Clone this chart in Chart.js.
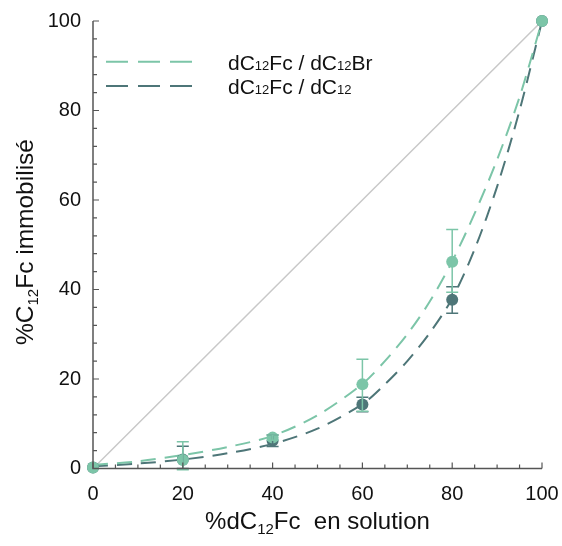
<!DOCTYPE html>
<html>
<head>
<meta charset="utf-8">
<script src="https://cdn.jsdelivr.net/npm/chart.js@4/dist/chart.umd.min.js"></script>
<style>
html,body{margin:0;padding:0;background:#fff;}
#wrap{width:562px;height:546px;position:relative;}
</style>
</head>
<body>
<div id="wrap"><canvas id="c"></canvas></div>
<script>
// ---- data ----
const xPoints = [0, 20, 40, 60, 80, 100];
const brValues = [0.2, 1.9, 6.9, 18.8, 46.2, 100];
const brLow    = [0.2, -0.3, 6.3, 12.8, 39.4, 100];
const brHigh   = [0.2, 6.0, 7.5, 24.4, 53.4, 100];
const c12Values = [0.2, 2.0, 6.2, 14.3, 37.7, 100];
const c12Low    = [0.2, 0.0, 4.9, 12.7, 34.7, 100];
const c12High   = [0.2, 5.0, 7.5, 15.9, 40.6, 100];

const fitX      = [0, 10, 20, 30, 40, 50, 60, 65, 70, 75, 80, 85, 90, 95, 100];
const brFit     = [0.8, 1.6, 3.0, 4.8, 7.3, 11.9, 18.9, 24.0, 30.0, 37.3, 46.3, 57.0, 69.0, 83.0, 100];
const c12Fit    = [0.5, 1.1, 2.0, 3.4, 5.5, 8.9, 14.4, 18.8, 24.0, 30.3, 38.0, 49.0, 63.0, 80.0, 100];

const diagX = [0, 100];
const diagY = [0, 100];

const xTickLabels = [0, 20, 40, 60, 80, 100];
const yTickLabels = [0, 20, 40, 60, 80, 100];
const legendLabels = [
  [['dC',21,0],['12',13,0.5],['Fc / dC',21,0],['12',13,0.5],['Br',21,0]],
  [['dC',21,0],['12',13,0.5],['Fc / dC',21,0],['12',13,0.5]]
];

const LIGHT = 'rgb(124,197,168)';
const DARK = 'rgb(78,118,120)';
const FONT = '"Liberation Sans", Arial, Helvetica, sans-serif';

const pts = (xs, ys) => xs.map((x, i) => ({x, y: ys[i]}));

function drawRich(ctx, parts, x, y, align) {
  let w = 0;
  parts.forEach(p => { ctx.font = p[1] + 'px ' + FONT; w += ctx.measureText(p[0]).width; });
  let cx = align === 'center' ? x - w / 2 : x;
  ctx.textBaseline = 'alphabetic';
  ctx.textAlign = 'left';
  parts.forEach(p => {
    ctx.font = p[1] + 'px ' + FONT;
    ctx.fillText(p[0], cx, y + p[2]);
    cx += ctx.measureText(p[0]).width;
  });
}

const decor = {
  id: 'decor',
  afterDatasetsDraw(chart) {
    const ctx = chart.ctx;
    const xs = chart.scales.x, ys = chart.scales.y;
    const drawErr = (lo, hi, color) => {
      ctx.save();
      ctx.strokeStyle = color;
      ctx.lineWidth = 1.5;
      xPoints.forEach((x, i) => {
        if (hi[i] - lo[i] < 0.5) return;
        const px = xs.getPixelForValue(x);
        const y1 = ys.getPixelForValue(lo[i]);
        const y2 = ys.getPixelForValue(hi[i]);
        ctx.beginPath();
        ctx.moveTo(px, y1); ctx.lineTo(px, y2);
        ctx.moveTo(px - 6, y1); ctx.lineTo(px + 6, y1);
        ctx.moveTo(px - 6, y2); ctx.lineTo(px + 6, y2);
        ctx.stroke();
      });
      ctx.restore();
    };
    drawErr(c12Low, c12High, DARK);
    drawErr(brLow, brHigh, LIGHT);
  },
  afterDraw(chart) {
    const ctx = chart.ctx;
    const a = chart.chartArea;
    const xs = chart.scales.x, ys = chart.scales.y;
    ctx.save();
    // axes
    ctx.strokeStyle = '#555';
    ctx.lineWidth = 1.5;
    ctx.beginPath();
    ctx.moveTo(a.left, a.top); ctx.lineTo(a.left, a.bottom); ctx.lineTo(a.right, a.bottom);
    ctx.stroke();
    // inward ticks
    ctx.lineWidth = 1.2;
    ctx.beginPath();
    for (let v = 0; v <= 100; v += 5) {
      const px = xs.getPixelForValue(v);
      const len = v % 20 === 0 ? 6 : 4;
      ctx.moveTo(px, a.bottom); ctx.lineTo(px, a.bottom - len);
    }
    for (let v = 0; v <= 100; v += 4) {
      const py = ys.getPixelForValue(v);
      const len = v % 20 === 0 ? 6 : 4;
      ctx.moveTo(a.left, py); ctx.lineTo(a.left + len, py);
    }
    ctx.stroke();
    // legend
    const legendColors = [LIGHT, DARK];
    const lineY = [61.7, 86];
    const textY = [69.5, 93.5];
    legendColors.forEach((col, i) => {
      ctx.strokeStyle = col;
      ctx.lineWidth = 2;
      ctx.setLineDash([22, 10]);
      ctx.beginPath();
      ctx.moveTo(106, lineY[i]); ctx.lineTo(194, lineY[i]);
      ctx.stroke();
      ctx.setLineDash([]);
      ctx.fillStyle = '#111';
      drawRich(ctx, legendLabels[i], 228, textY[i], 'left');
    });
    // axis titles
    ctx.fillStyle = '#111';
    drawRich(ctx, [['%dC',24,0],['12',15,5],['Fc  en solution',24,0]], (a.left + a.right) / 2, 529, 'center');
    ctx.save();
    ctx.translate(33, 242);
    ctx.rotate(-Math.PI / 2);
    drawRich(ctx, [['%C',24.5,0],['12',15,5],['Fc immobilisé',24.5,0]], 0, 0, 'center');
    ctx.restore();
    ctx.restore();
  }
};

new Chart(document.getElementById('c'), {
  type: 'scatter',
  data: {
    datasets: [
      {data: pts(xPoints, brValues), backgroundColor: LIGHT, borderWidth: 0, pointRadius: 6, pointHoverRadius: 6, clip: false, order: 1},
      {data: pts(xPoints, c12Values), backgroundColor: DARK, borderWidth: 0, pointRadius: 6, pointHoverRadius: 6, clip: false, order: 2},
      {data: pts(fitX, brFit), showLine: true, borderColor: LIGHT, borderWidth: 2, borderDash: [15, 9], pointRadius: 0, tension: 0.3, order: 3},
      {data: pts(fitX, c12Fit), showLine: true, borderColor: DARK, borderWidth: 2, borderDash: [15, 9], pointRadius: 0, tension: 0.3, order: 4},
      {data: pts(diagX, diagY), showLine: true, borderColor: '#c8c8c8', borderWidth: 1.5, pointRadius: 0, order: 5}
    ]
  },
  options: {
    responsive: true,
    maintainAspectRatio: false,
    animation: false,
    layout: {padding: {left: 0, right: 20, top: 21, bottom: 0}},
    plugins: {legend: {display: false}, tooltip: {enabled: false}},
    scales: {
      x: {
        type: 'linear', min: 0, max: 100,
        afterFit: s => { s.height = 77.5; s.paddingRight = 0; s.paddingLeft = 0; },
        afterBuildTicks: s => { s.ticks = xTickLabels.map(v => ({value: v})); },
        grid: {display: false, drawTicks: false},
        border: {display: false},
        ticks: {padding: 14, color: '#111', font: {family: FONT, size: 20}, maxRotation: 0}
      },
      y: {
        type: 'linear', min: 0, max: 100,
        afterFit: s => { s.width = 93; s.paddingTop = 0; s.paddingBottom = 0; },
        afterBuildTicks: s => { s.ticks = yTickLabels.map(v => ({value: v})); },
        grid: {display: false, drawTicks: false},
        border: {display: false},
        ticks: {padding: 12, color: '#111', font: {family: FONT, size: 20}}
      }
    }
  },
  plugins: [decor]
});
</script>
</body>
</html>
